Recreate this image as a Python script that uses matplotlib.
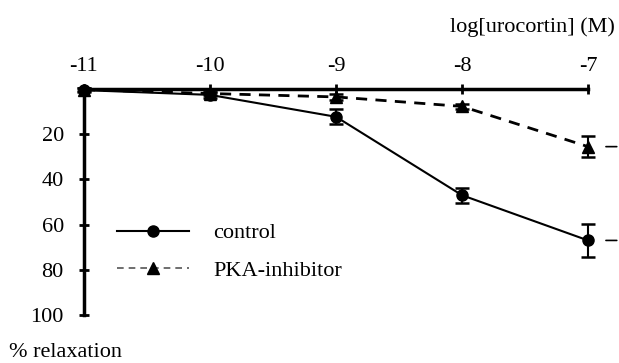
import matplotlib.pyplot as plt
from matplotlib.lines import Line2D

plt.rcParams['font.family'] = ['Liberation Serif', 'DejaVu Serif']

# log concentrations
log_conc = [-11, -10, -9, -8, -7]

# % relaxation and SEM
control = [0.5, 2.6, 12.3, 47, 67]
control_err = [0.8, 1.2, 3.3, 3.3, 7.3]
pka = [0.3, 2.0, 3.5, 7.7, 25.5]
pka_err = [0.6, 0.8, 1.5, 1.2, 4.8]

y_ticks = [20, 40, 60, 80, 100]

fig = plt.figure(figsize=(6.19, 3.63), dpi=100)
ax = fig.add_axes([0.1357, 0.1322, 0.8143, 0.6226])

# Plot both series
ax.errorbar(log_conc, control, yerr=control_err, color='black', lw=1.5,
            marker='o', markersize=8, capsize=5, capthick=1.8, elinewidth=1.5,
            clip_on=False, zorder=3)
ax.errorbar(log_conc, pka, yerr=pka_err, color='black', lw=2, ls=(0, (4, 3)),
            marker='^', markersize=8, capsize=5, capthick=1.8, elinewidth=1.5,
            clip_on=False, zorder=3)

ax.set_xlim(-11, -7)
ax.set_ylim(100, 0)

# x axis drawn on top, y axis on the left
ax.spines['bottom'].set_visible(False)
ax.spines['right'].set_visible(False)
ax.spines['top'].set_linewidth(2.5)
ax.spines['left'].set_linewidth(2.5)
ax.xaxis.tick_top()
ax.set_xticks(log_conc)
ax.set_xticklabels([str(v) for v in log_conc])
ax.set_yticks(y_ticks)
ax.tick_params(axis='both', direction='inout', length=7, width=2, labelsize=16)
ax.tick_params(axis='x', pad=6)
ax.tick_params(axis='y', pad=11)

fig.text(0.993, 0.925, 'log[urocortin] (M)', ha='right', va='center', fontsize=16)
fig.text(0.015, 0.03, '% relaxation', ha='left', va='center', fontsize=16)

# small leftover dashes to the right of the last points
ax.annotate('', xy=(-6.75, pka[-1]), xytext=(-6.88, pka[-1]),
            arrowprops=dict(arrowstyle='-', lw=1.2), annotation_clip=False)
ax.annotate('', xy=(-6.75, control[-1]), xytext=(-6.88, control[-1]),
            arrowprops=dict(arrowstyle='-', lw=1.2), annotation_clip=False)

handles = [
    Line2D([], [], color='black', lw=1.5, marker='o', markersize=8),
    Line2D([], [], color='#555555', lw=1.2, ls=(0, (4, 3)), marker='^',
           markersize=8, markerfacecolor='black', markeredgecolor='black'),
]
ax.legend(handles, ['control', 'PKA-inhibitor'], frameon=False, fontsize=16,
          handlelength=3.25, handletextpad=1.1, labelspacing=0.75,
          loc='center left', bbox_to_anchor=(0.025, 0.28))

fig.savefig('out.png', dpi=100)
